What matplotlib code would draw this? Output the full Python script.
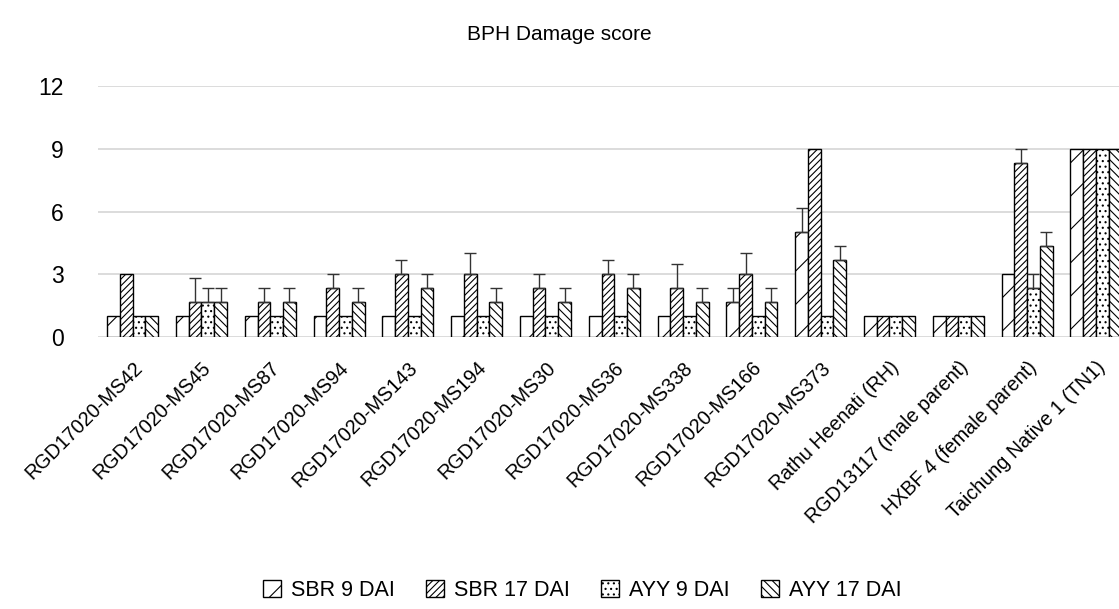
import numpy as np
import matplotlib.pyplot as plt

plt.rcParams['font.family'] = ['Liberation Sans', 'DejaVu Sans']
plt.rcParams['hatch.linewidth'] = 0.8

# Genotypen
lines = ['RGD17020-MS42', 'RGD17020-MS45', 'RGD17020-MS87', 'RGD17020-MS94',
         'RGD17020-MS143', 'RGD17020-MS194', 'RGD17020-MS30', 'RGD17020-MS36',
         'RGD17020-MS338', 'RGD17020-MS166', 'RGD17020-MS373', 'Rathu Heenati (RH)',
         'RGD13117 (male parent)', 'HXBF 4 (female parent)', 'Taichung Native 1 (TN1)']

# Mittelwerte
sbr9 = [1, 1, 1, 1, 1, 1, 1, 1, 1, 1.67, 5, 1, 1, 3, 9]
sbr17 = [3, 1.67, 1.67, 2.33, 3, 3, 2.33, 3, 2.33, 3, 9, 1, 1, 8.33, 9]
ayy9 = [1, 1.67, 1, 1, 1, 1, 1, 1, 1, 1, 1, 1, 1, 2.33, 9]
ayy17 = [1, 1.67, 1.67, 1.67, 2.33, 1.67, 1.67, 2.33, 1.67, 1.67, 3.67, 1, 1, 4.33, 9]

# Fehlerbalken (nur nach oben)
sbr9_err = [0, 0, 0, 0, 0, 0, 0, 0, 0, 0.67, 1.15, 0, 0, 0, 0]
sbr17_err = [0, 1.15, 0.67, 0.67, 0.67, 1.0, 0.67, 0.67, 1.15, 1.0, 0, 0, 0, 0.67, 0]
ayy9_err = [0, 0.67, 0, 0, 0, 0, 0, 0, 0, 0, 0, 0, 0, 0.67, 0]
ayy17_err = [0, 0.67, 0.67, 0.67, 0.67, 0.67, 0.67, 0.67, 0.67, 0.67, 0.67, 0, 0, 0.67, 0]

series = [('SBR 9 DAI', sbr9, sbr9_err, '/'),
          ('SBR 17 DAI', sbr17, sbr17_err, '/////'),
          ('AYY 9 DAI', ayy9, ayy9_err, '...'),
          ('AYY 17 DAI', ayy17, ayy17_err, '\\\\\\\\')]

fig = plt.figure(figsize=(11.19, 6.09), dpi=100)
ax = fig.add_axes([0.0878, 0.4466, 0.9223, 0.4122])

x = np.arange(len(lines))
w = 0.185
for i, (name, vals, err, hatch) in enumerate(series):
    pos = x + (i - 1.5) * w
    ax.bar(pos, vals, w, color='white', edgecolor='black', linewidth=1,
           hatch=hatch, label=name, zorder=2)
    err = np.array(err)
    m = err > 0
    ax.errorbar(pos[m], np.array(vals)[m], yerr=[np.zeros(m.sum()), err[m]],
                fmt='none', ecolor='#333333', elinewidth=1, capsize=4.5,
                capthick=1, zorder=3)

ax.set_xlim(-0.5, len(lines) - 0.5)
ax.set_ylim(0, 12)
ax.set_yticks([0, 3, 6, 9, 12])
ax.yaxis.grid(True, color='#d9d9d9', linewidth=1.3, zorder=0)
ax.set_axisbelow(True)
for s in ax.spines.values():
    s.set_visible(False)
ax.tick_params(axis='both', length=0)
ax.tick_params(axis='y', pad=25, labelsize=16.5)
ax.set_xticks(x)
ax.set_xticklabels(lines, rotation=45, ha='right', rotation_mode='anchor',
                   fontsize=14.2)
ax.tick_params(axis='x', pad=15)

fig.text(0.5, 1 - 35 / 609, 'BPH Damage score', ha='center', va='center',
         fontsize=15)

fig.legend(loc='center', bbox_to_anchor=(582 / 1119, 1 - 590 / 609), ncol=4,
           frameon=False, fontsize=15.5, handlelength=0.84, handleheight=0.84,
           handletextpad=0.47, columnspacing=1.44)

plt.savefig('out.png', dpi=100)
